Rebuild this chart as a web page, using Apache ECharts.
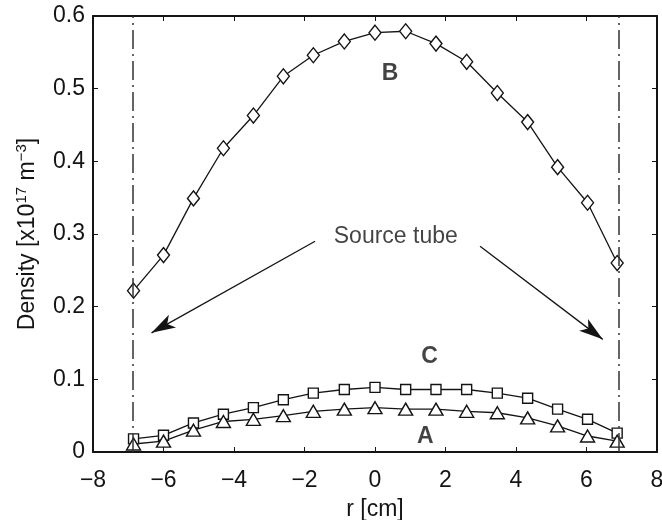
<!DOCTYPE html>
<html>
<head>
<meta charset="utf-8">
<script src="https://cdn.jsdelivr.net/npm/echarts@6/dist/echarts.min.js"></script>
<style>html,body{margin:0;background:#fff}#chart{width:662px;height:520px}</style>
</head>
<body>
<div id="chart"></div>
<script>
// radial positions [cm] and densities [x10^17 m^-3]
const radius = [-6.85, -6.0, -5.15, -4.3, -3.45, -2.6, -1.75, -0.87, 0, 0.87, 1.73, 2.6, 3.47, 4.33, 5.18, 6.03, 6.87];
const densityB = [0.222, 0.271, 0.349, 0.418, 0.463, 0.517, 0.546, 0.565, 0.577, 0.579, 0.562, 0.537, 0.494, 0.454, 0.392, 0.343, 0.260];
const densityC = [0.018, 0.023, 0.040, 0.052, 0.061, 0.072, 0.081, 0.086, 0.089, 0.086, 0.086, 0.086, 0.081, 0.074, 0.059, 0.045, 0.026];
const densityA = [0.011, 0.015, 0.030, 0.042, 0.045, 0.050, 0.056, 0.059, 0.061, 0.059, 0.059, 0.056, 0.054, 0.047, 0.036, 0.022, 0.015];
const tubeWalls = [-6.88, 6.91];
const xRange = [-8, 8, 2];
const yRange = [0, 0.6, 0.1];
const notes = [
  { text: "B", at: [0.43, 0.52], bold: true },
  { text: "C", at: [1.55, 0.131], bold: true },
  { text: "A", at: [1.43, 0.021], bold: true },
  { text: "Source tube", at: [0.59, 0.297], bold: false },
];
const arrows = [
  [[-1.70, 0.290], [-6.34, 0.164]],
  [[2.98, 0.283], [6.46, 0.155]],
];

const ink = "#141414";
const font = "'Liberation Sans', Arial, Helvetica, sans-serif";
const chart = echarts.init(document.getElementById("chart"));
const pairs = values => radius.map((r, i) => [r, values[i]]);
const minus = v => String(v).replace("-", "\u2212");

const xBase = { type: "value", min: xRange[0], max: xRange[1], interval: xRange[2], splitLine: { show: false },
  axisLine: { onZero: false, lineStyle: { color: ink, width: 2 } }, axisTick: { inside: true, length: 5, lineStyle: { color: ink, width: 1 } } };
const yBase = { type: "value", min: yRange[0], max: yRange[1], interval: yRange[2], splitLine: { show: false },
  axisLine: { onZero: false, lineStyle: { color: ink, width: 2 } }, axisTick: { inside: true, length: 5, lineStyle: { color: ink, width: 1 } } };

const profile = (name, values, symbol, size) => ({
  name, type: "line", data: pairs(values), symbol, symbolSize: size, showAllSymbol: true,
  lineStyle: { color: ink, width: 1.3 }, itemStyle: { color: "#fff", borderColor: ink, borderWidth: 1.4 },
  z: 3,
});

chart.setOption({
  animation: false,
  backgroundColor: "#fff",
  textStyle: { fontFamily: font },
  grid: { left: 93, right: 5, top: 16, bottom: 68, outerBoundsMode: "none" },
  xAxis: [
    { ...xBase, position: "bottom", name: "r [cm]", nameLocation: "middle", nameGap: 46,
      nameTextStyle: { color: ink, fontSize: 23, fontFamily: font },
      axisLabel: { color: ink, fontSize: 23, fontFamily: font, margin: 17, formatter: minus } },
    { ...xBase, position: "top", axisLabel: { show: false } },
  ],
  yAxis: [
    { ...yBase, position: "left", nameLocation: "middle", nameRotate: 90, nameGap: 51,
      name: "{t|Density [x10}{s|17}{t| m}{s|\u22123}{t|]}",
      nameTextStyle: { color: ink, fontFamily: font, rich: {
        t: { fontSize: 23, color: ink, fontFamily: font, lineHeight: 28 },
        s: { fontSize: 15, color: ink, fontFamily: font, verticalAlign: "top", lineHeight: 15 },
      } },
      axisLabel: { color: ink, fontSize: 23, fontFamily: font, margin: 8 } },
    { ...yBase, position: "right", axisLabel: { show: false } },
  ],
  series: [
    profile("B", densityB, "diamond", [12, 15]),
    profile("C", densityC, "rect", 10),
    profile("A", densityA, "triangle", [14, 12]),
    {
      name: "notes", type: "scatter", symbolSize: 0, z: 4,
      data: notes.map(n => ({ value: n.at, name: n.text,
        label: { show: true, position: "inside", formatter: n.text, color: ink, fontFamily: font,
          fontSize: 23, fontWeight: n.bold ? "bold" : "normal" } })),
      markLine: {
        silent: true, symbol: ["none", "none"], label: { show: false },
        lineStyle: { color: "#333", width: 1.5, type: [19, 5, 2, 5] },
        data: tubeWalls.map(x => ({ xAxis: x })),
      },
    },
    {
      name: "arrows", type: "line", data: [], z: 4,
      markLine: {
        silent: true, label: { show: false },
        lineStyle: { color: ink, width: 1.3, type: "solid" },
        data: arrows.map(([a, b]) => [
          { coord: a, symbol: "none" },
          { coord: b, symbol: "arrow", symbolSize: [11, 24] },
        ]),
      },
    },
  ],
});
</script>
</body>
</html>
